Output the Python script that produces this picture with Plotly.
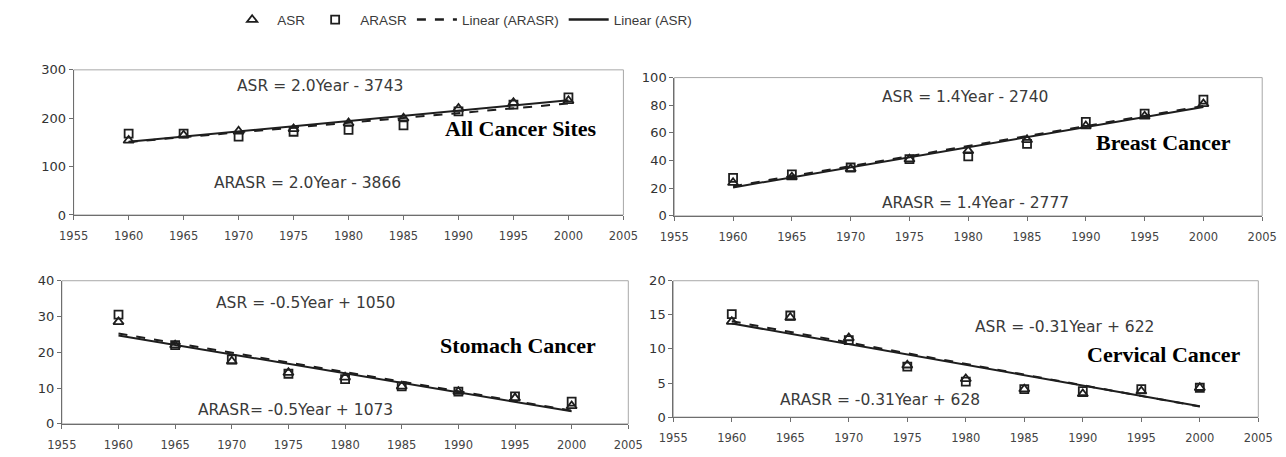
import numpy as np
import plotly.graph_objects as go

# Observation years shared by all four panels
years = [1960, 1965, 1970, 1975, 1980, 1985, 1990, 1995, 2000]

# Age-standardised rates (ASR) and age-adjusted ASR (ARASR) per site
all_asr = [154, 165, 173, 178, 190, 200, 220, 232, 236]
all_arasr = [168, 168, 162, 172, 176, 185, 214, 228, 243]
breast_asr = [24, 28, 34, 41, 47, 55, 65, 72, 81]
breast_arasr = [27.5, 30, 35, 41, 43, 52, 68, 74, 84]
stomach_asr = [28.5, 22, 17.5, 14.3, 13, 10.5, 9, 7.2, 5]
stomach_arasr = [30.5, 22, 18, 14, 12.5, 10.5, 9, 7.7, 6.2]
cervical_asr = [14, 14.6, 11.6, 7.6, 5.6, 4.1, 3.4, 3.8, 4.3]
cervical_arasr = [15.1, 14.9, 11.3, 7.4, 5.2, 4.1, 3.8, 4.1, 4.3]

site_titles = ["All Cancer Sites", "Breast Cancer", "Stomach Cancer", "Cervical Cancer"]
asr_eqs = ["ASR = 2.0Year - 3743", "ASR = 1.4Year - 2740",
           "ASR = -0.5Year + 1050", "ASR = -0.31Year + 622"]
arasr_eqs = ["ARASR = 2.0Year - 3866", "ARASR = 1.4Year - 2777",
             "ARASR= -0.5Year + 1073", "ARASR = -0.31Year + 628"]
y_max = [300, 100, 40, 20]
y_step = [100, 20, 10, 5]

panels = [
    (all_asr, all_arasr),
    (breast_asr, breast_arasr),
    (stomach_asr, stomach_arasr),
    (cervical_asr, cervical_arasr),
]

# Plot-area placement of the 2x2 grid (paper fractions)
x_domains = [[0.0467, 0.4844], [0.5249, 0.9930], [0.0373, 0.4883], [0.5241, 0.9899]]
y_domains = [[0.5295, 0.8578], [0.5274, 0.8403], [0.0569, 0.3807], [0.0722, 0.3807]]

# Text positions in each panel's data coordinates
asr_eq_pos = [(1977.4, 266), (1979.7, 85.8), (1976.5, 33.8), (1988.4, 13.2)]
arasr_eq_pos = [(1976.3, 66), (1980.6, 9), (1975.6, 3.8), (1972.7, 2.5)]
title_pos = [(1995.7, 178), (1996.6, 53), (1995.3, 21.9), (1996.9, 9.2)]

INK = "#1e1e1e"
TEXT = "#3a3a3a"
AXIS_DARK = "#6e6e6e"
AXIS_LIGHT = "#a8a8a8"

fig = go.Figure()
yrs = np.array(years, dtype=float)
annotations = []

for i, (asr, arasr) in enumerate(panels):
    sfx = "" if i == 0 else str(i + 1)
    xa, ya = "x" + sfx, "y" + sfx
    first = i == 0

    # least-squares trend lines for both series
    c_asr = np.polyfit(yrs, asr, 1)
    c_arasr = np.polyfit(yrs, arasr, 1)
    fig.add_trace(go.Scatter(
        x=years, y=np.polyval(c_arasr, yrs), mode="lines", name="Linear (ARASR)",
        line=dict(color=INK, width=2, dash="dash"), xaxis=xa, yaxis=ya,
        showlegend=False, legendrank=3))
    fig.add_trace(go.Scatter(
        x=years, y=np.polyval(c_asr, yrs), mode="lines", name="Linear (ASR)",
        line=dict(color=INK, width=2), xaxis=xa, yaxis=ya,
        showlegend=False, legendrank=4))
    fig.add_trace(go.Scatter(
        x=years, y=asr, mode="markers", name="ASR",
        marker=dict(symbol="triangle-up-open", size=9, color=INK, line=dict(width=1.8)),
        xaxis=xa, yaxis=ya, showlegend=first, legendrank=1))
    fig.add_trace(go.Scatter(
        x=years, y=arasr, mode="markers", name="ARASR",
        marker=dict(symbol="square-open", size=8, color=INK, line=dict(width=1.8)),
        xaxis=xa, yaxis=ya, showlegend=first, legendrank=2))

    axis_common = dict(showline=True, linecolor=AXIS_DARK, linewidth=1,
                       showgrid=False, zeroline=False, ticks="outside",
                       ticklen=4, tickcolor=AXIS_DARK)
    fig.layout["xaxis" + sfx] = dict(domain=x_domains[i], anchor=ya, range=[1955, 2005],
                                     tick0=1955, dtick=5, ticklabelstandoff=6,
                                     tickfont=dict(family="DejaVu Sans", size=11.5,
                                                   color="#444444"),
                                     **axis_common)
    fig.layout["yaxis" + sfx] = dict(domain=y_domains[i], anchor=xa, range=[0, y_max[i]],
                                     tick0=0, dtick=y_step[i],
                                     tickfont=dict(family="DejaVu Sans", size=13,
                                                   color="#333333"),
                                     **axis_common)

    # lighter frame round the plot area
    fig.add_shape(type="rect", xref=xa + " domain", yref=ya + " domain",
                  x0=0, x1=1, y0=0, y1=1, line=dict(color=AXIS_LIGHT, width=1),
                  layer="below")

    annotations.append(dict(x=asr_eq_pos[i][0], y=asr_eq_pos[i][1], xref=xa, yref=ya,
                            text=asr_eqs[i], showarrow=False,
                            font=dict(family="DejaVu Sans", size=15.5, color=TEXT)))
    annotations.append(dict(x=arasr_eq_pos[i][0], y=arasr_eq_pos[i][1], xref=xa, yref=ya,
                            text=arasr_eqs[i], showarrow=False,
                            font=dict(family="DejaVu Sans", size=15.5, color=TEXT)))
    annotations.append(dict(x=title_pos[i][0], y=title_pos[i][1], xref=xa, yref=ya,
                            text="<b>" + site_titles[i] + "</b>", showarrow=False,
                            font=dict(family="Liberation Serif", size=22, color="black")))

# Legend-only entries for the two trend-line styles
fig.add_trace(go.Scatter(x=[None], y=[None], mode="lines", name="Linear (ARASR)",
                         line=dict(color=INK, width=2.5, dash="dash"), legendrank=3))
fig.add_trace(go.Scatter(x=[None], y=[None], mode="lines", name="Linear (ASR)",
                         line=dict(color=INK, width=2.5), legendrank=4))

fig.update_layout(
    width=1286, height=457,
    margin=dict(l=0, r=0, t=0, b=0),
    paper_bgcolor="white", plot_bgcolor="white",
    annotations=annotations,
    legend=dict(orientation="h", x=0.356, xanchor="center", y=1.006, yanchor="top",
                font=dict(family="Liberation Sans", size=13.5, color=TEXT),
                itemwidth=40, tracegroupgap=0, bgcolor="rgba(0,0,0,0)"),
    showlegend=True,
)

fig.write_html("out.html")
